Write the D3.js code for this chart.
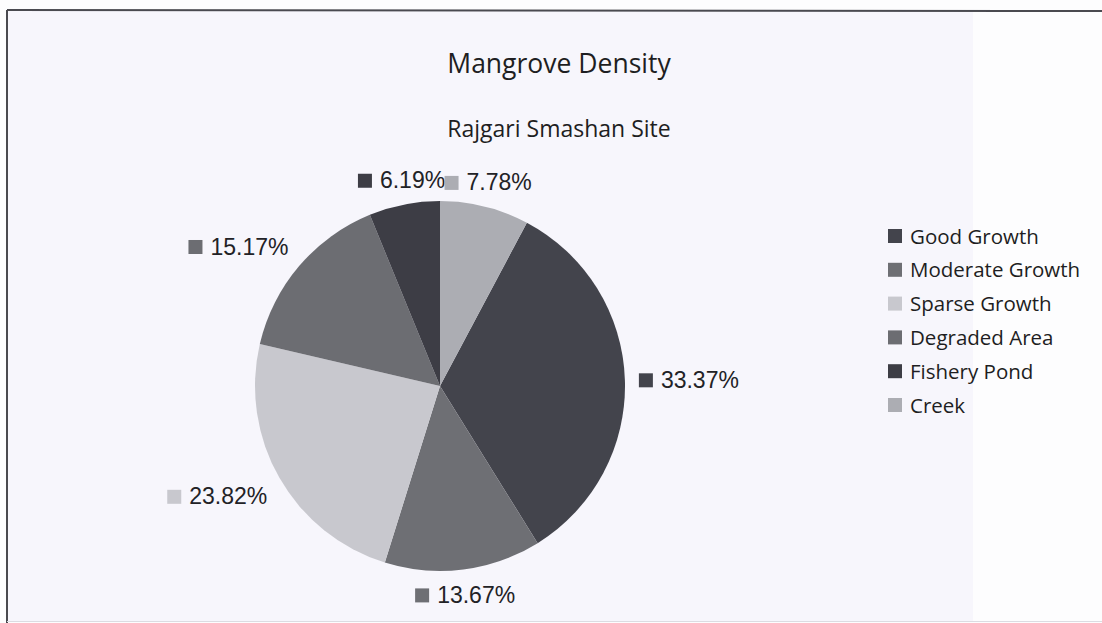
<!DOCTYPE html>
<html>
<head>
<meta charset="utf-8">
<script src="https://cdn.jsdelivr.net/npm/d3@7"></script>
<style>
  body { margin: 0; background: #fdfdfe; }
  svg { display: block; }
</style>
</head>
<body>
<div id="chart"></div>
<script>
'use strict';

// chart data
var categories = ['Good Growth', 'Moderate Growth', 'Sparse Growth', 'Degraded Area', 'Fishery Pond', 'Creek'];
var percents = [33.37, 13.67, 23.82, 15.17, 6.19, 7.78];
var sliceColors = ['#43444c', '#6e6f74', '#c8c8ce', '#6c6d72', '#3d3d45', '#acadb3'];

var width = 1102, height = 623;
var cx = 440, cy = 386, radius = 185;

var svg = d3.select('#chart').append('svg')
    .attr('width', width)
    .attr('height', height);

// page / chart background like the scan
svg.append('rect').attr('x', 0).attr('y', 0).attr('width', width).attr('height', height).attr('fill', '#fdfdfe');
svg.append('rect').attr('x', 7).attr('y', 10).attr('width', 966).attr('height', 612).attr('fill', '#f7f6fc');
svg.append('line').attr('x1', 7).attr('y1', 10).attr('x2', width).attr('y2', 11)
    .attr('stroke', '#4a4a50').attr('stroke-width', 2);
svg.append('line').attr('x1', 7).attr('y1', 10).attr('x2', 7).attr('y2', 623)
    .attr('stroke', '#4a4a50').attr('stroke-width', 2);
svg.append('line').attr('x1', 7).attr('y1', 621.5).attr('x2', width).attr('y2', 621.5)
    .attr('stroke', '#dcdce2').attr('stroke-width', 1);

var titleFont = 'Open Sans, Lato, sans-serif';

svg.append('text')
    .attr('x', 559).attr('y', 73)
    .attr('text-anchor', 'middle')
    .style('font-family', titleFont)
    .style('font-size', '26.5px')
    .attr('fill', '#1e1e22')
    .text('Mangrove Density');

svg.append('text')
    .attr('x', 559).attr('y', 137)
    .attr('text-anchor', 'middle')
    .style('font-family', titleFont)
    .style('font-size', '23px')
    .attr('fill', '#1e1e22')
    .text('Rajgari Smashan Site');

// first slice (Good Growth) starts after the Creek share, clockwise from 12 o'clock
var offset = percents[percents.length - 1] / 100 * 2 * Math.PI;

var pie = d3.pie()
    .sort(null)
    .value(function (d) { return d.value; })
    .startAngle(offset)
    .endAngle(offset + 2 * Math.PI);

var data = categories.map(function (c, i) {
    return {name: c, value: percents[i], color: sliceColors[i]};
});

var arcs = pie(data);

var arc = d3.arc().innerRadius(0).outerRadius(radius);

var g = svg.append('g').attr('transform', 'translate(' + cx + ',' + cy + ')');

g.selectAll('path.slice')
    .data(arcs)
    .enter().append('path')
    .attr('class', 'slice')
    .attr('d', arc)
    .attr('fill', function (d) { return d.data.color; })
    .attr('stroke', 'none');

// outside-end data labels with colour key squares
// anchor sits on the mid ray just outside the pie, box hangs off it by edge or corner
var anchorR = 199;
var labelFont = 'Liberation Sans, Arial, sans-serif';
var labelSize = 23;
var mark = 14, gap = 8, halfH = 11;

function side(v) {
    if (Math.abs(v) < 0.4) return 0;
    return v > 0 ? 1 : -1;
}

var lab = g.selectAll('g.lab')
    .data(arcs)
    .enter().append('g')
    .attr('class', 'lab');

lab.each(function (d) {
    var node = d3.select(this);
    var mid = (d.startAngle + d.endAngle) / 2;
    var sx = Math.sin(mid), sy = -Math.cos(mid);
    var txt = node.append('text')
        .style('font-family', labelFont)
        .style('font-size', labelSize + 'px')
        .attr('fill', '#222226')
        .text(d.data.value.toFixed(2) + '%');
    var tw = txt.node().getComputedTextLength();
    var halfW = (mark + gap + tw) / 2;
    var bx = anchorR * sx + side(sx) * halfW;
    var by = anchorR * sy + side(sy) * halfH;
    var left = bx - halfW;
    node.append('rect')
        .attr('x', left).attr('y', by - mark / 2 + 1)
        .attr('width', mark).attr('height', mark)
        .attr('fill', d.data.color);
    txt.attr('x', left + mark + gap).attr('y', by + 8.5);
});

// legend
var legend = svg.append('g').attr('transform', 'translate(888,236)');
var rowH = 33.8;

legend.selectAll('rect')
    .data(data)
    .enter().append('rect')
    .attr('x', 0)
    .attr('y', function (d, i) { return i * rowH - 7; })
    .attr('width', 14).attr('height', 14)
    .attr('fill', function (d) { return d.color; });

legend.selectAll('text')
    .data(data)
    .enter().append('text')
    .attr('x', 22)
    .attr('y', function (d, i) { return i * rowH + 7.5; })
    .style('font-family', titleFont)
    .style('font-size', '20.5px')
    .attr('fill', '#1e1e22')
    .text(function (d) { return d.name; });
</script>
</body>
</html>
